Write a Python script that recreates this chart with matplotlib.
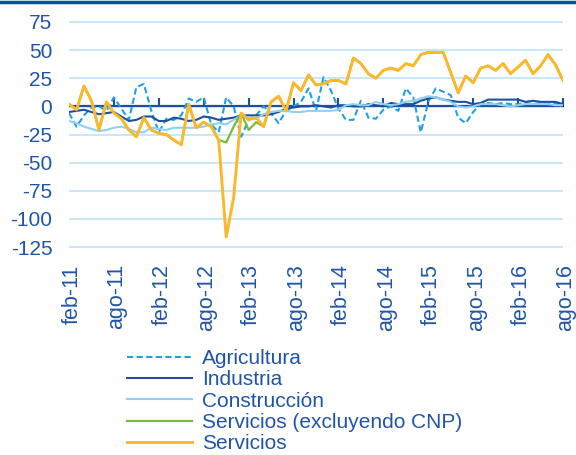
import matplotlib
matplotlib.use("Agg")
import matplotlib.pyplot as plt
from matplotlib.lines import Line2D
from matplotlib.transforms import ScaledTranslation

plt.rcParams['font.family'] = ['Liberation Sans', 'DejaVu Sans']

# Data: monthly values, feb-11 .. ago-16
tick_labels = ["feb-11", "ago-11", "feb-12", "ago-12", "feb-13", "ago-13",
               "feb-14", "ago-14", "feb-15", "ago-15", "feb-16", "ago-16"]

agricultura = [-6, -18, -8, -1, 0, -4, 8, -2, -12, 17, 20, -4, -23, -11, -12, -8,
               7, 4, 8, -16, -23, 8, 0, -27, -12, -8, 0, -6, -15, -4, 0, 4,
               16, -4, 26, 14, -2, -12, -12, 5, -10, -11, -3, 0, -4, 16, 8, -23,
               4, 16, 13, 10, -10, -15, -5, 2, 3, 2, 3, 2, 2, 3, 2, 3, 2, 3, 1]
industria = [-5, -4, -3, -5, -7, -6, -5, -9, -13, -12, -9, -9, -13, -13, -10, -11,
             -13, -12, -9, -10, -12, -11, -10, -8, -8, -8, -8, -7, -5, -2, -1, 0,
             0, 1, 0, -1, 1, 1, 0, 0, 2, 1, 0, 3, 2, 2, 2, 5,
             7, 8, 6, 5, 4, 4, 2, 3, 6, 6, 6, 6, 6, 4, 5, 4, 4, 4, 2]
construccion = [-13, -15, -18, -20, -22, -21, -19, -18, -20, -23, -23, -19, -20, -21, -19, -19,
                -19, -19, -18, -16, -15, -16, -12, -8, -10, -11, -7, -5, -4, -4, -5, -5,
                -4, -4, -4, -4, -3, 1, 2, 1, 1, 4, 2, 1, 2, 4, 5, 7,
                9, 8, 6, 4, 0, -1, 0, 2, 2, 2, 1, 0, 1, 2, 2, 2, 2, 1, 1]
servicios = [2, -3, 18, 5, -21, 4, -6, -11, -21, -27, -10, -21, -24, -25, -30, -34,
             2, -19, -14, -18, -30, -116, -81, -6, -12, -10, -18, 4, 9, -4, 21, 14,
             28, 19, 20, 23, 23, 20, 43, 38, 29, 25, 32, 34, 32, 38, 36, 46,
             48, 48, 48, 30, 12, 27, 21, 34, 36, 32, 38, 29, 35, 41, 29, 36, 46, 37, 23]
servicios_sin_cnp = [2, -3, 18, 5, -21, 4, -6, -11, -21, -27, -10, -21, -24, -25, -30, -34,
                     2, -19, -14, -18, -30, -32, -18, -6, -21, -14, -18, 4, 9, -4, 21, 14,
                     28, 19, 20, 23, 23, 20, 43, 38, 29, 25, 32, 34, 32, 38, 36, 46,
                     48, 48, 48, 30, 12, 27, 21, 34, 36, 32, 38, 29, 35, 41, 29, 36, 46, 37, 23]

x = list(range(len(servicios)))
label_pos = list(range(0, len(servicios), 6))

dark_blue = "#1C4F9F"
text_blue = "#1F55A8"

fig = plt.figure(figsize=(5.76, 4.55), dpi=100)
ax = fig.add_axes([69 / 576, 1 - 250.4 / 455, 494 / 576, (250.4 - 18.6) / 455])

ax.plot(x, agricultura, color="#1DA1E6", lw=1.5, dashes=(3, 1.6), label="Agricultura", zorder=3)
ax.plot(x, industria, color=dark_blue, lw=1.5, label="Industria", zorder=3)
ax.plot(x, construccion, color="#8ED1F2", lw=1.5, label="Construcción", zorder=3)
ax.plot(x, servicios_sin_cnp, color="#77BC3F", lw=1.6, label="Servicios (excluyendo CNP)", zorder=3)
ax.plot(x, servicios, color="#FBB82B", lw=2.1, label="Servicios", zorder=4)

ax.axhline(0, color=dark_blue, lw=1.6, zorder=2)

ax.set_xlim(0, len(servicios) - 1)
ax.set_ylim(-128, 78)
ax.set_yticks(range(-125, 76, 25))
ax.set_yticklabels([str(v) for v in range(-125, 76, 25)])
ax.grid(axis="y", color="#BEE4F6", lw=1.2, zorder=0)
ax.set_axisbelow(True)

ax.set_xticks(label_pos)
ax.set_xticklabels(tick_labels, rotation=90, ha="center", va="top")
ax.tick_params(axis="x", length=0, pad=10, labelsize=15.5, labelcolor=text_blue)
ax.tick_params(axis="y", length=0, pad=12, labelsize=15, labelcolor=text_blue)
shift = ScaledTranslation(3 / 100, 0, fig.dpi_scale_trans)
for lab in ax.get_xticklabels():
    lab.set_transform(lab.get_transform() + shift)
for s in ax.spines.values():
    s.set_visible(False)

# small ticks hanging under the zero line
ylo, yhi = ax.get_ylim()
sec = ax.secondary_xaxis((0 - ylo) / (yhi - ylo))
sec.set_xticks(label_pos[1:])
sec.set_xticklabels([])
sec.tick_params(axis="x", direction="out", length=6, width=1.5, color=dark_blue)
sec.spines["bottom"].set_visible(False)

fig.legend(loc="upper left", bbox_to_anchor=(127 / 576, 1 - 349 / 455),
           frameon=False, fontsize=15, labelcolor=text_blue,
           handlelength=3.1, handletextpad=0.5, labelspacing=0.11,
           borderpad=0, borderaxespad=0)

fig.add_artist(Line2D([0, 1], [1 - 1.5 / 455, 1 - 1.5 / 455], transform=fig.transFigure,
                      color="#0B4EA2", lw=2.5))

fig.savefig("out.png", dpi=100)
